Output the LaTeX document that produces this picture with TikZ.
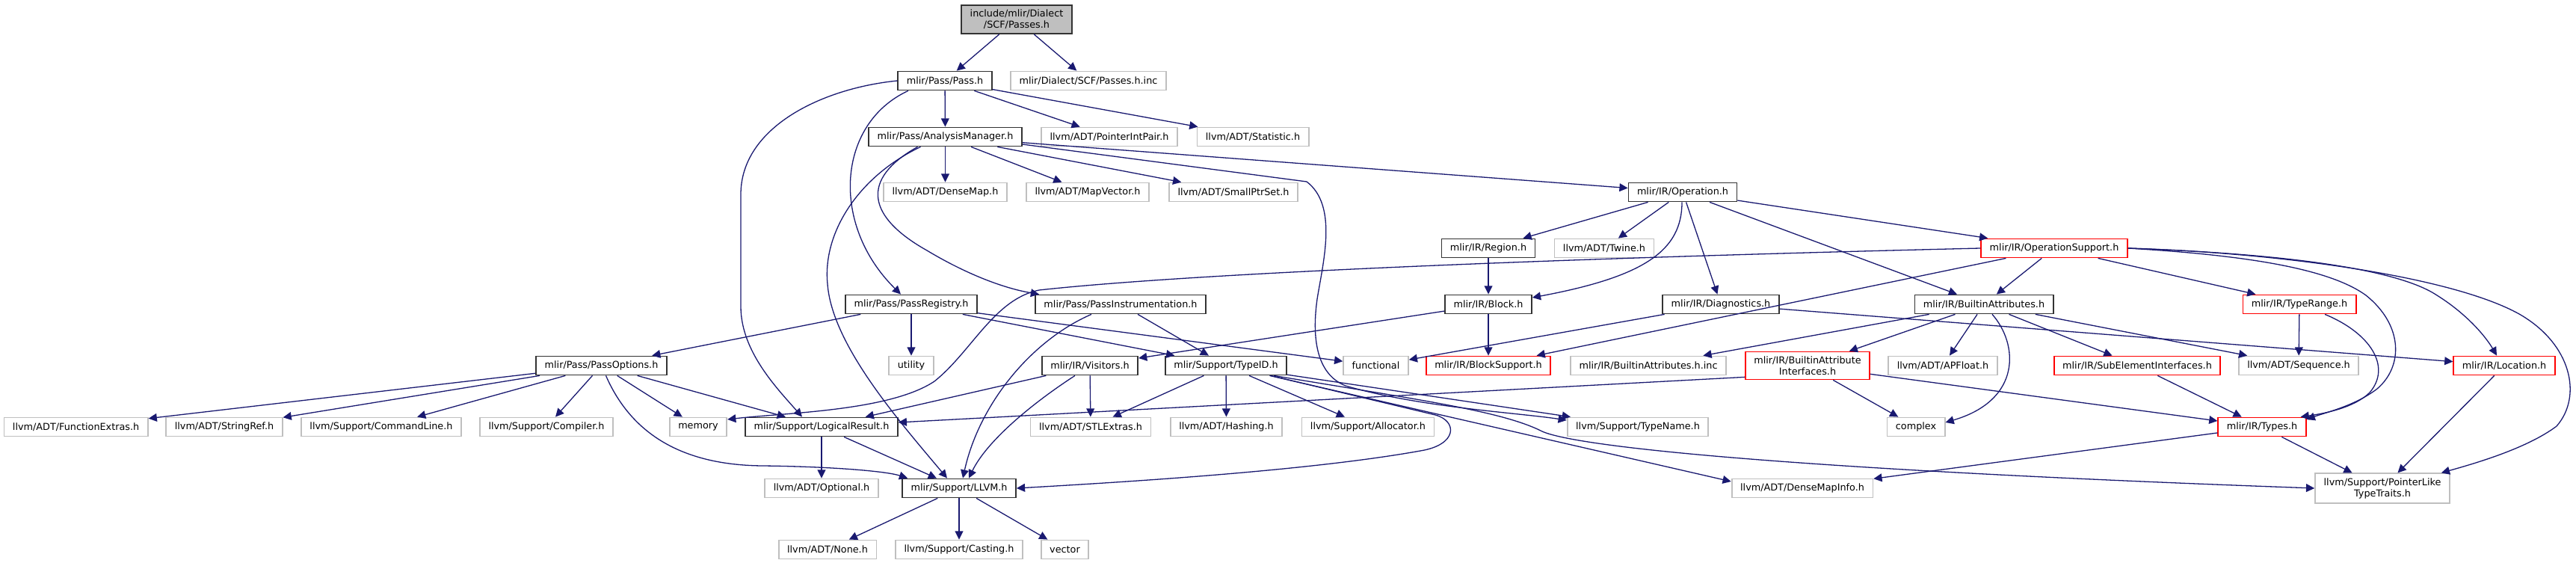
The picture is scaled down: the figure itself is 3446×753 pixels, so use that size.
\documentclass[tikz,border=0pt]{standalone}
\usepackage{fontspec}
\setmainfont{DejaVu Sans}
\usetikzlibrary{arrows.meta,calc}
\definecolor{edgeblue}{HTML}{191970}
\definecolor{extgray}{HTML}{BFBFBF}
\tikzset{
  filenode/.style={draw, rectangle, align=center, inner xsep=5.75pt, inner ysep=3pt, minimum height=12.5pt, line width=0.9pt, fill=white, font=\fontsize{6.4}{7.5}\selectfont},
  incnode/.style={filenode, draw=black!80},
  sysnode/.style={filenode, draw=extgray},
  truncnode/.style={filenode, draw=red},
  rootnode/.style={filenode, draw=black!80, fill=extgray},
  inclink/.style={-{Triangle[length=5.6pt,width=5.4pt]}, line width=0.65pt, draw=edgeblue}
}
\begin{document}
\begin{tikzpicture}[x=0.5pt,y=-0.5pt]
  \useasboundingbox (0,0) rectangle (3446,753);
  % files
  \node[rootnode] (root) at (1360,26) {include/mlir/Dialect\\/SCF/Passes.h};
  \node[incnode] (pass) at (1264,108) {mlir/Pass/Pass.h};
  \node[sysnode] (passinc) at (1456,108) {mlir/Dialect/SCF/Passes.h.inc};
  \node[incnode] (amgr) at (1264.5,183) {mlir/Pass/AnalysisManager.h};
  \node[sysnode] (pip) at (1484,183) {llvm/ADT/PointerIntPair.h};
  \node[sysnode] (stat) at (1676,183) {llvm/ADT/Statistic.h};
  \node[sysnode] (dmap) at (1264.5,257) {llvm/ADT/DenseMap.h};
  \node[sysnode] (mvec) at (1455,257) {llvm/ADT/MapVector.h};
  \node[sysnode] (sps) at (1650,257) {llvm/ADT/SmallPtrSet.h};
  \node[incnode] (oper) at (2251,257) {mlir/IR/Operation.h};
  \node[incnode] (region) at (1991,332) {mlir/IR/Region.h};
  \node[sysnode] (twine) at (2146,332) {llvm/ADT/Twine.h};
  \node[truncnode] (opsup) at (2748,332) {mlir/IR/OperationSupport.h};
  \node[incnode] (preg) at (1219,407) {mlir/Pass/PassRegistry.h};
  \node[incnode] (pinst) at (1499,407) {mlir/Pass/PassInstrumentation.h};
  \node[incnode] (block) at (1991,407) {mlir/IR/Block.h};
  \node[incnode] (diag) at (2302,407) {mlir/IR/Diagnostics.h};
  \node[incnode] (battr) at (2654,407) {mlir/IR/BuiltinAttributes.h};
  \node[truncnode] (trange) at (3076,407) {mlir/IR/TypeRange.h};
  \node[incnode] (popt) at (804.5,489) {mlir/Pass/PassOptions.h};
  \node[sysnode] (util) at (1219,489) {utility};
  \node[incnode] (visit) at (1458,489) {mlir/IR/Visitors.h};
  \node[incnode] (typeid) at (1640,489) {mlir/Support/TypeID.h};
  \node[sysnode] (func) at (1840.5,489) {functional};
  \node[truncnode] (bsup) at (1991,489) {mlir/IR/BlockSupport.h};
  \node[sysnode] (bainc) at (2205,489) {mlir/IR/BuiltinAttributes.h.inc};
  \node[truncnode] (bai) at (2418,489) {mlir/IR/BuiltinAttribute\\Interfaces.h};
  \node[sysnode] (apf) at (2599,489) {llvm/ADT/APFloat.h};
  \node[truncnode] (subel) at (2859,489) {mlir/IR/SubElementInterfaces.h};
  \node[sysnode] (seq) at (3075,489) {llvm/ADT/Sequence.h};
  \node[truncnode] (loc) at (3350,489) {mlir/IR/Location.h};
  \node[sysnode] (fext) at (101.6,571) {llvm/ADT/FunctionExtras.h};
  \node[sysnode] (sref) at (300,571) {llvm/ADT/StringRef.h};
  \node[sysnode] (cline) at (510,571) {llvm/Support/CommandLine.h};
  \node[sysnode] (cmplr) at (731,571) {llvm/Support/Compiler.h};
  \node[sysnode] (memory) at (934,571) {memory};
  \node[incnode] (lres) at (1099,571) {mlir/Support/LogicalResult.h};
  \node[sysnode] (stl) at (1459,571) {llvm/ADT/STLExtras.h};
  \node[sysnode] (hash) at (1640.5,571) {llvm/ADT/Hashing.h};
  \node[sysnode] (alloc) at (1830,571) {llvm/Support/Allocator.h};
  \node[sysnode] (tname) at (2191,571) {llvm/Support/TypeName.h};
  \node[sysnode] (cplx) at (2563,571) {complex};
  \node[truncnode] (types) at (3026,571) {mlir/IR/Types.h};
  \node[incnode] (llvmh) at (1283,653) {mlir/Support/LLVM.h};
  \node[sysnode] (opt) at (1099,653) {llvm/ADT/Optional.h};
  \node[sysnode] (dmi) at (2411,653) {llvm/ADT/DenseMapInfo.h};
  \node[sysnode] (pltt) at (3187,653) {llvm/Support/PointerLike\\TypeTraits.h};
  \node[sysnode] (noneh) at (1107,735) {llvm/ADT/None.h};
  \node[sysnode] (cast) at (1283,735) {llvm/Support/Casting.h};
  \node[sysnode] (vect) at (1424.5,735) {vector};
  % straight includes
  \foreach \a/\b in {root/pass, root/passinc, pass/amgr, pass/pip, pass/stat,
      amgr/dmap, amgr/mvec, amgr/sps, amgr/oper,
      oper/region, oper/twine, oper/diag, oper/battr, oper/opsup,
      region/block, block/bsup, block/visit, diag/func, diag/loc,
      opsup/bsup, opsup/battr, opsup/trange, trange/seq,
      battr/bainc, battr/bai, battr/apf, battr/subel, battr/seq,
      subel/types, bai/types, bai/cplx, types/pltt, types/dmi, loc/pltt,
      preg/popt, preg/util, preg/typeid, preg/func, pinst/typeid,
      visit/lres, visit/stl, typeid/stl, typeid/hash, typeid/alloc, typeid/tname,
      popt/fext, popt/sref, popt/cline, popt/cmplr, popt/memory, popt/lres,
      lres/opt, lres/llvmh, llvmh/noneh, llvmh/cast, llvmh/vect}
    {\draw[inclink] (\a) -- (\b);}
  \draw[inclink] (typeid) -- ($(dmi.west)+(0,-9)$);
  \draw[inclink] ($(bai.south west)+(0,-4)$) -- ($(lres.east)+(0,-6)$);
  % curved includes
  \draw[inclink] (pass.west) .. controls (1100,118) and (991,170) .. (991,260) -- (991,410) .. controls (991,470) and (1040,520) .. ($(lres.north)+(-26,0)$);
  \draw[inclink] ($(pass.south)+(-49,0)$) .. controls (1120,165) and (1110,300) .. ($(preg.north)+(-14,0)$);
  \draw[inclink] ($(amgr.south)+(-37,0)$) .. controls (1150,240) and (1160,290) .. (1240,335) .. controls (1290,365) and (1340,385) .. ($(pinst.north west)+(6,0)$);
  \draw[inclink] ($(amgr.south)+(-33,0)$) .. controls (1150,235) and (1100,310) .. (1107,380) .. controls (1113,460) and (1200,560) .. ($(llvmh.north)+(-16,0)$);
  \draw[inclink] ($(amgr.east)+(0,10)$) -- (1748,243) .. controls (1790,275) and (1770,350) .. (1762,400) .. controls (1755,450) and (1760,500) .. (1800,516) .. controls (1900,545) and (2030,552) .. ($(tname.west)+(0,-9)$);
  \draw[inclink] ($(pinst.south)+(-39,0)$) .. controls (1380,455) and (1310,540) .. ($(llvmh.north)+(5,0)$);
  \draw[inclink] ($(visit.south)+(-20,0)$) .. controls (1380,540) and (1320,590) .. ($(llvmh.north)+(13,0)$);
  \draw[inclink] ($(typeid.south east)+(-22,0)$) -- (1920,555) .. controls (1950,563) and (1950,595) .. (1900,603) .. controls (1750,630) and (1500,645) .. (llvmh.east);
  \draw[inclink] ($(typeid.south east)+(-18,0)$) .. controls (1900,535) and (2010,550) .. (2063,577) .. controls (2110,598) and (2400,628) .. (pltt.west);
  \draw[inclink] ($(popt.south)+(6,0)$) .. controls (840,570) and (900,622) .. (1020,623) .. controls (1110,624) and (1185,630) .. ($(llvmh.north west)+(8,0)$);
  \draw[inclink] ($(oper.south)+(-1,0)$) .. controls (2250,335) and (2200,370) .. ($(block.east)+(0,-9)$);
  \draw[inclink] (opsup.west) .. controls (2100,345) and (1600,365) .. (1390,388) .. controls (1330,400) and (1300,470) .. (1250,510) .. controls (1190,550) and (1050,552) .. ($(memory.east)+(0,-10)$);
  \draw[inclink] (opsup.east) .. controls (2980,340) and (3110,355) .. (3165,395) .. controls (3215,435) and (3215,490) .. (3180,520) .. controls (3150,543) and (3110,552) .. ($(types.east)+(0,-10)$);
  \draw[inclink] (opsup.east) .. controls (3020,338) and (3200,355) .. (3260,395) .. controls (3300,420) and (3325,450) .. ($(loc.north)+(-10,0)$);
  \draw[inclink] (opsup.east) .. controls (3050,338) and (3280,370) .. (3370,420) .. controls (3440,460) and (3455,530) .. (3420,570) .. controls (3380,600) and (3310,620) .. ($(pltt.north east)+(-12,0)$);
  \draw[inclink] ($(trange.south)+(34,0)$) .. controls (3170,445) and (3200,490) .. (3170,525) .. controls (3150,545) and (3110,553) .. ($(types.north east)+(-8,0)$);
  \draw[inclink] ($(battr.south)+(11,0)$) .. controls (2700,460) and (2705,535) .. ($(cplx.east)+(0,-6)$);
\end{tikzpicture}
\end{document}
